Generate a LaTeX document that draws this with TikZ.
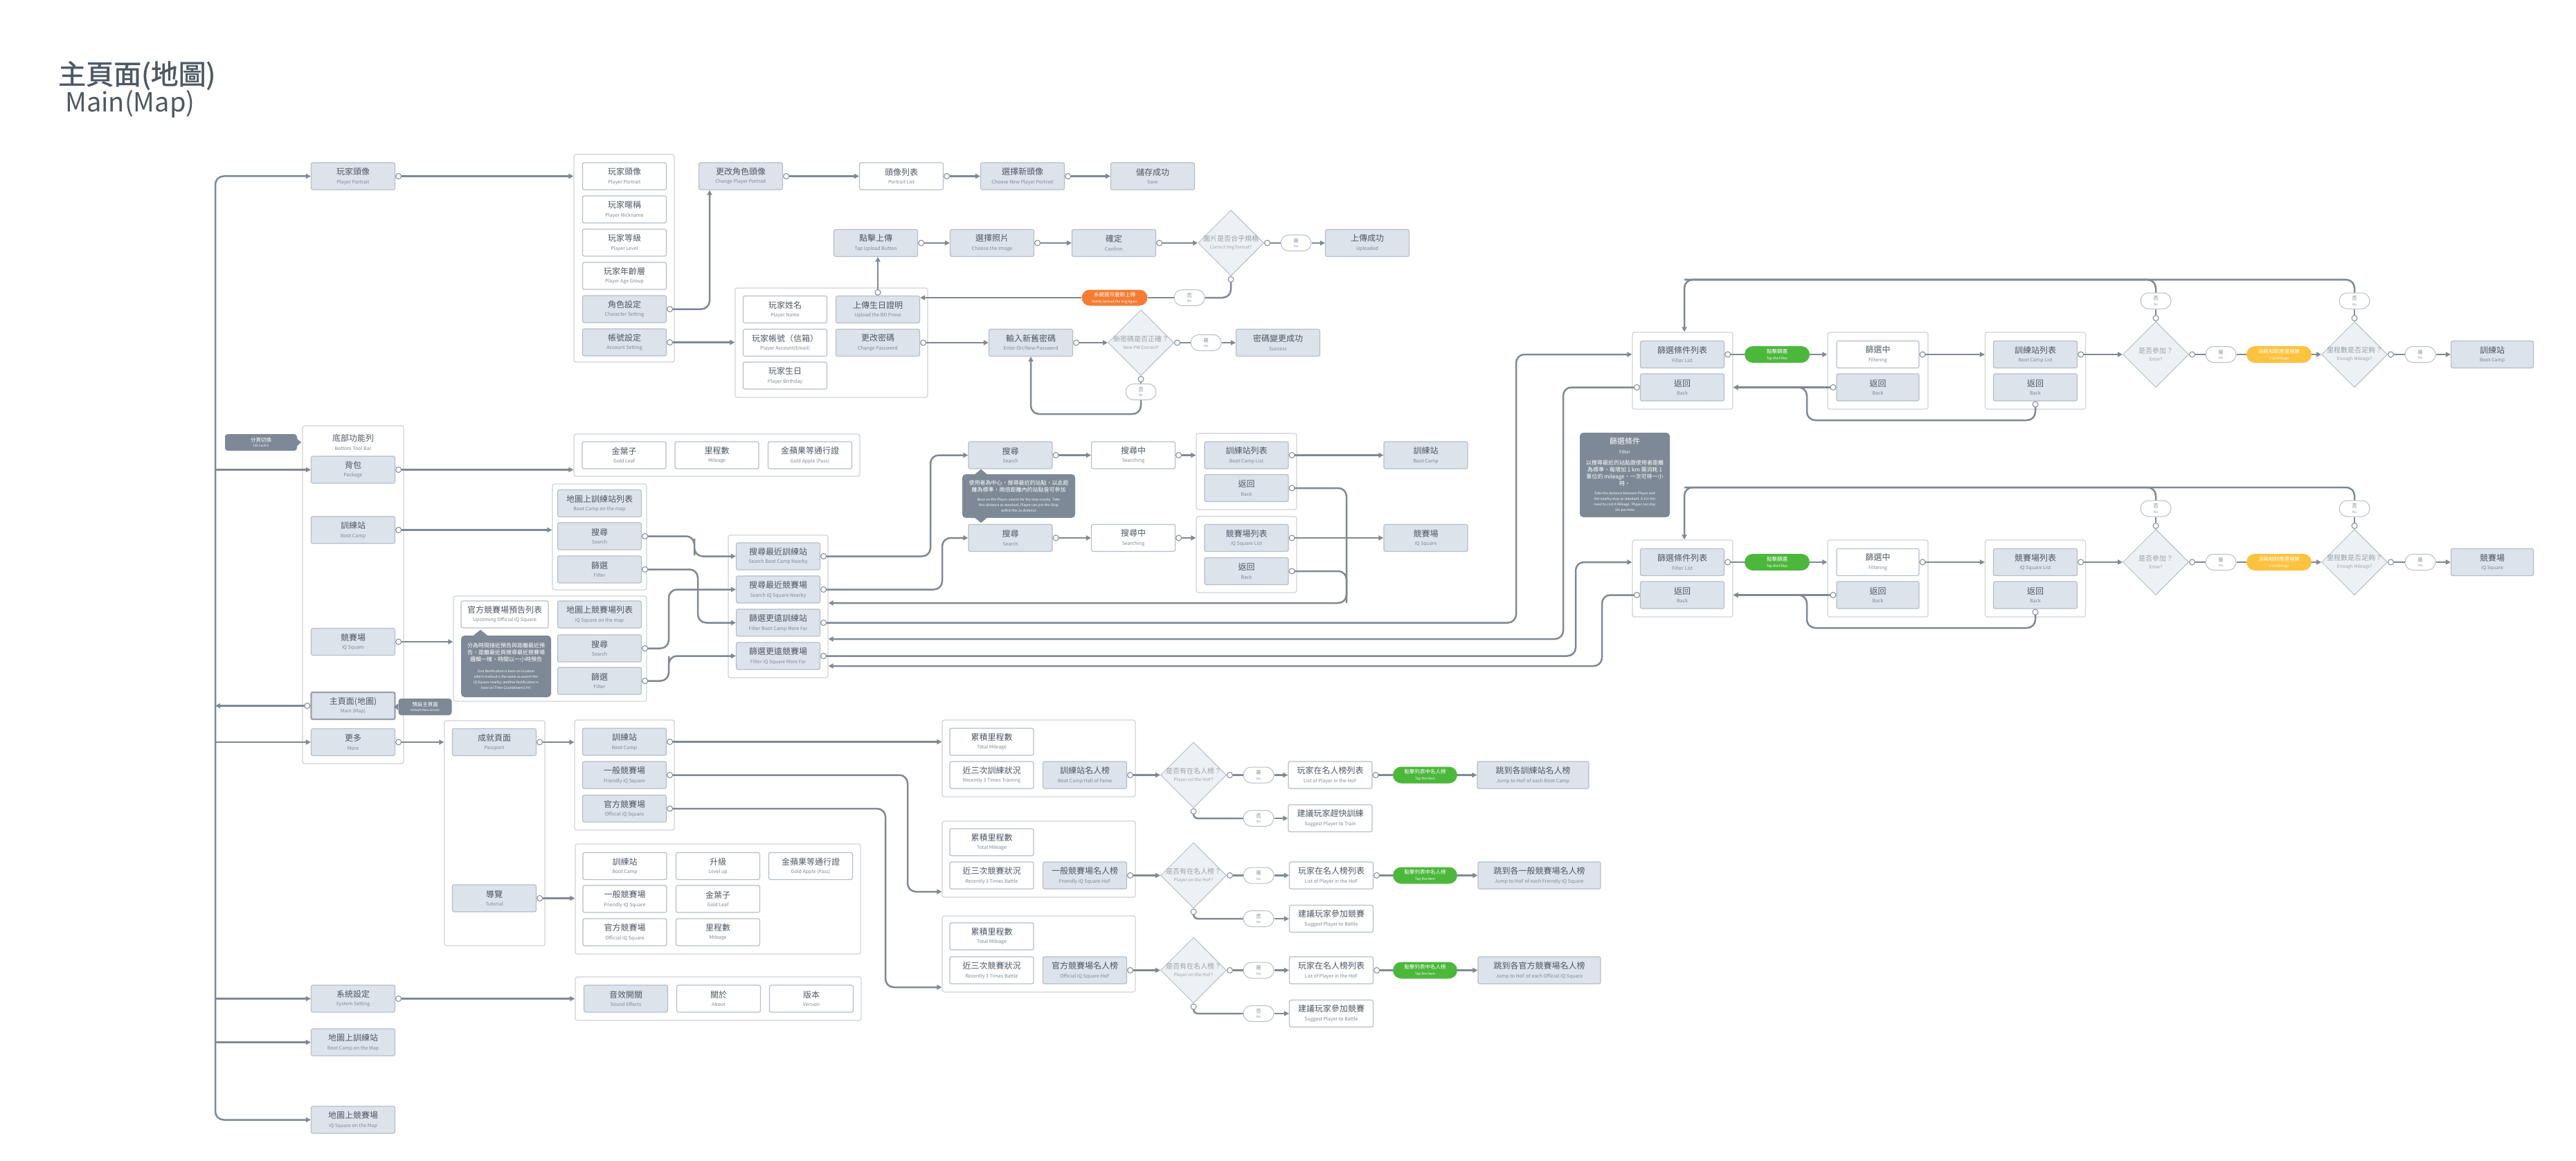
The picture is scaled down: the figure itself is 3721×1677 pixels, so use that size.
\documentclass[tikz,border=0pt]{standalone}
\usepackage{fontspec}
\setmainfont{Noto Sans CJK TC}
\newfontfamily\ttlfont[FakeBold=1.3]{Noto Sans CJK TC}
\usetikzlibrary{arrows.meta,shapes.geometric,shapes.misc}
\definecolor{lc}{HTML}{7E8994}
\definecolor{bxf}{HTML}{DCE3EB}
\definecolor{bxl}{HTML}{B5BEC8}
\definecolor{ctl}{HTML}{CDD3D9}
\definecolor{tx}{HTML}{4D5864}
\definecolor{st}{HTML}{7F8A95}
\definecolor{dfl}{HTML}{EDF0F4}
\definecolor{dtx}{HTML}{9AA4AE}
\definecolor{dk}{HTML}{7D8996}
\definecolor{og}{HTML}{F57C32}
\definecolor{gn}{HTML}{4CB83B}
\definecolor{yl}{HTML}{FDC23E}
\newcommand\boxtxt[2]{{\fontsize{12}{12}\selectfont\color{tx}#1}\\{\color{st}#2}}
\newcommand\diatxt[2]{{\fontsize{10}{10}\selectfont #1}\\#2}
\newcommand\pilltxt[2]{{\fontsize{7.5}{7.5}\selectfont #1}\\#2}
\begin{document}
\begin{tikzpicture}[x=1pt,y=-1pt,
 fbx/.style={rectangle, rounded corners=2.5pt, draw=bxl, line width=1.2pt, fill=bxf, minimum width=121pt, minimum height=39pt, inner sep=0pt, align=center, font=\fontsize{7}{12.5}\selectfont},
 wbx/.style={fbx, fill=white},
 ctr/.style={rectangle, rounded corners=3pt, draw=ctl, line width=1.2pt, fill=white, inner sep=0pt},
 dia/.style={diamond, draw=bxl, line width=1pt, fill=dfl, minimum width=95pt, minimum height=95pt, inner sep=0pt},
 ynp/.style={rounded rectangle, draw=bxl, line width=1pt, fill=white, minimum width=44pt, minimum height=23pt, inner sep=0pt, align=center, text=st, font=\fontsize{4.5}{7.5}\selectfont},
 cpl/.style={rounded rectangle, minimum width=94pt, minimum height=24pt, inner sep=0pt, align=center, text=white, font=\fontsize{5}{9}\selectfont},
 dnote/.style={rectangle, rounded corners=5pt, fill=dk, text=white, inner sep=0pt, align=center},
 ln/.style={draw=lc, line width=2.5pt, rounded corners=12pt},
 ar/.style={ln, -{Triangle[length=7pt,width=7pt]}},
 cln/.style={ln, {Circle[length=9pt,fill=white,line width=1pt 0]}-},
 car/.style={ln, {Circle[length=9pt,fill=white,line width=1pt 0]}-{Triangle[length=7pt,width=7pt]}},
 dlab/.style={align=center,text=dtx,font=\fontsize{6.5}{11}\selectfont}
]
\useasboundingbox[fill=white] (0,0) rectangle (3721,1677);

% title
\node[anchor=west, inner sep=0pt, text=tx, font=\ttlfont\fontsize{40}{40}\selectfont] (title) at (84,109) {主頁面(地圖)};
\node[anchor=west, inner sep=0pt, text=tx, font=\fontsize{38}{38}\selectfont] (title2) at (94,150) {Main(Map)};

% containers
\node[ctr, minimum width=145pt, minimum height=300pt] (c1) at (901.5,373) {};
\node[ctr, minimum width=278pt, minimum height=158pt] (c2) at (1201,495) {};
\node[ctr, minimum width=146pt, minimum height=488pt] (cL) at (510,859) {};
\node[ctr, minimum width=413pt, minimum height=61pt] (cI) at (1035.5,657.5) {};
\node[ctr, minimum width=136pt, minimum height=153pt] (cBC) at (866,775.5) {};
\node[ctr, minimum width=279pt, minimum height=152pt] (cIQ) at (794.5,937) {};
\node[ctr, minimum width=144pt, minimum height=206pt] (cM) at (1124,876) {};
\node[ctr, minimum width=145pt, minimum height=110pt] (cS1) at (1800.5,681) {};
\node[ctr, minimum width=145pt, minimum height=110pt] (cS2) at (1800.5,801) {};
\node[ctr, minimum width=145pt, minimum height=325pt] (cP) at (714.5,1203.5) {};
\node[ctr, minimum width=144pt, minimum height=159pt] (cPa) at (902,1119.5) {};
\node[ctr, minimum width=412pt, minimum height=159pt] (cT) at (1037,1298.5) {};
\node[ctr, minimum width=413pt, minimum height=63pt] (cSet) at (1037.5,1442.5) {};
\node[ctr, minimum width=279pt, minimum height=111pt] (cH1) at (1500.5,1095.5) {};
\node[ctr, minimum width=279pt, minimum height=110pt] (cH2) at (1500.5,1241) {};
\node[ctr, minimum width=279pt, minimum height=110pt] (cH3) at (1500.5,1378) {};
\node[ctr, minimum width=145pt, minimum height=111pt] (cA) at (2430.5,535.5) {};
\node[ctr, minimum width=145pt, minimum height=111pt] (cB) at (2712.5,535.5) {};
\node[ctr, minimum width=145pt, minimum height=111pt] (cC) at (2940,535.5) {};
\node[ctr, minimum width=145pt, minimum height=111pt] (cA2) at (2430.5,835.5) {};
\node[ctr, minimum width=145pt, minimum height=111pt] (cB2) at (2712.5,835.5) {};
\node[ctr, minimum width=145pt, minimum height=111pt] (cC2) at (2940,835.5) {};

% top area
\node[fbx] (pp) at (510,254.5) {\boxtxt{玩家頭像}{Player Portrait}};
\node[wbx] (i1) at (902,254.5) {\boxtxt{玩家頭像}{Player Portrait}};
\node[wbx] (i2) at (902,302.5) {\boxtxt{玩家暱稱}{Player Nickname}};
\node[wbx] (i3) at (902,350.5) {\boxtxt{玩家等級}{Player Level}};
\node[wbx] (i4) at (902,398.5) {\boxtxt{玩家年齡層}{Player Age Group}};
\node[fbx] (i5) at (902,446.5) {\boxtxt{角色設定}{Character Setting}};
\node[fbx] (i6) at (902,494.5) {\boxtxt{帳號設定}{Account Setting}};
\node[fbx] (cp) at (1070,254.5) {\boxtxt{更改角色頭像}{Change Player Portrait}};
\node[wbx] (pl) at (1302,254.5) {\boxtxt{頭像列表}{Portrait List}};
\node[fbx] (cn) at (1477,254.5) {\boxtxt{選擇新頭像}{Choose New Player Portrait}};
\node[fbx] (sv) at (1665,254.5) {\boxtxt{儲存成功}{Save}};
\node[fbx] (tu) at (1265,351) {\boxtxt{點擊上傳}{Tap Upload Button}};
\node[fbx] (ci) at (1433,351) {\boxtxt{選擇照片}{Choose the Image}};
\node[fbx] (cf) at (1609,351) {\boxtxt{確定}{Confirm}};
\node[dia, label={[dlab]center:\diatxt{圖片是否合乎規格}{Correct Img format?}}] (d1) at (1778,351) {};
\node[ynp] (y1) at (1872,351) {\pilltxt{是}{Yes}};
\node[fbx] (up) at (1975,351) {\boxtxt{上傳成功}{Uploaded}};
\node[ynp] (n1) at (1718,430) {\pilltxt{否}{No}};
\node[cpl, fill=og, minimum width=95pt, minimum height=23pt] (orp) at (1610,430) {\pilltxt{系統提示重新上傳}{Notify Upload the Img Again}};
\node[wbx] (pn) at (1134,447) {\boxtxt{玩家姓名}{Player Name}};
\node[fbx] (bd) at (1268,447) {\boxtxt{上傳生日證明}{Upload the BD Prove}};
\node[wbx] (pa) at (1134,495) {\boxtxt{玩家帳號（信箱）}{Player Account(Email)}};
\node[fbx] (cw) at (1268,495) {\boxtxt{更改密碼}{Change Password}};
\node[wbx] (pb) at (1134,542.5) {\boxtxt{玩家生日}{Player Birthday}};
\node[fbx] (ep) at (1489,495) {\boxtxt{輸入新舊密碼}{Enter Ori/New Password}};
\node[dia, label={[dlab]center:\diatxt{新密碼是否正確？}{New PW Correct?}}] (d2) at (1648,495) {};
\node[ynp] (y2) at (1742,495) {\pilltxt{是}{Yes}};
\node[fbx] (ok) at (1846,495) {\boxtxt{密碼變更成功}{Success}};
\node[ynp] (n2) at (1648,566) {\pilltxt{否}{No}};

% left column
\node[dnote, minimum width=104pt, minimum height=24pt, rounded corners=4pt, font=\fontsize{4.5}{7.5}\selectfont] (tab) at (377,639) {\pilltxt{分頁切換}{Tab Switch}};
\fill[dk] ([yshift=5pt]tab.east) -- ([xshift=6pt]tab.east) -- ([yshift=-5pt]tab.east) -- cycle;
\node[align=center, inner sep=0pt, font=\fontsize{7}{12.5}\selectfont] (tbt) at (510,639) {\boxtxt{底部功能列}{Bottom Tool Bar}};
\node[fbx] (pk) at (510,678.5) {\boxtxt{背包}{Package}};
\node[fbx] (bcm) at (510,765.5) {\boxtxt{訓練站}{Boot Camp}};
\node[fbx] (iq) at (510,927) {\boxtxt{競賽場}{iQ Square}};
\node[fbx, line width=2.4pt, draw=bxl!85!black] (mm) at (510,1019.5) {\boxtxt{主頁面(地圖)}{Main (Map)}};
\node[dnote, minimum width=77pt, minimum height=24pt, rounded corners=4pt, font=\fontsize{4.5}{7.5}\selectfont] (dm) at (614,1021) {\pilltxt{預設主頁面}{Default Main Screen}};
\fill[dk] ([yshift=5pt]dm.west) -- ([xshift=-6pt]dm.west) -- ([yshift=-5pt]dm.west) -- cycle;
\node[fbx] (mo) at (510,1072) {\boxtxt{更多}{More}};
\node[fbx] (ss) at (510,1442.5) {\boxtxt{系統設定}{System Setting}};
\node[fbx] (mb) at (510,1505.5) {\boxtxt{地圖上訓練站}{Boot Camp on the Map}};
\node[fbx] (mq) at (510,1617.5) {\boxtxt{地圖上競賽場}{iQ Square on the Map}};

% package items
\node[wbx] (gl) at (901.5,657.5) {\boxtxt{金葉子}{Gold Leaf}};
\node[wbx] (mi) at (1035.5,657.5) {\boxtxt{里程數}{Mileage}};
\node[wbx] (ga) at (1170,657.5) {\boxtxt{金蘋果等通行證}{Gold Apple (Pass)}};

% boot camp / iq square on map
\node[fbx] (bm) at (866,727) {\boxtxt{地圖上訓練站列表}{Boot Camp on the map}};
\node[fbx] (bs) at (866,774.5) {\boxtxt{搜尋}{Search}};
\node[fbx] (bf) at (866,822.5) {\boxtxt{篩選}{Filter}};
\node[wbx, minimum width=126pt] (up2) at (729,887.5) {\boxtxt{官方競賽場預告列表}{Upcoming Official iQ Square}};
\node[dnote, minimum width=130pt, minimum height=89pt, font=\fontsize{8}{10}\selectfont] (note2) at (731,962.5) {分為時間接近預告與距離最近預\\告，距離最近與搜尋最近競賽場\\邏輯一樣，時間以一小時預告\\[6pt]{\fontsize{5}{5}\selectfont One Notification is base on location}\\[-2pt]{\fontsize{5}{5}\selectfont which method is the same as search the}\\[-2pt]{\fontsize{5}{5}\selectfont iQ Square nearby, another Notification is}\\[-2pt]{\fontsize{5}{5}\selectfont base on Time Countdown(1 hr)}};
\fill[dk] ([xshift=-47pt]note2.north) -- ([xshift=-37pt,yshift=8pt]note2.north) -- ([xshift=-27pt]note2.north) -- cycle;
\node[fbx] (qm) at (866,887.5) {\boxtxt{地圖上競賽場列表}{iQ Square on the map}};
\node[fbx] (qs) at (866,936.5) {\boxtxt{搜尋}{Search}};
\node[fbx] (qf) at (866,983.5) {\boxtxt{篩選}{Filter}};

% middle container
\node[fbx] (m1) at (1124,803.5) {\boxtxt{搜尋最近訓練站}{Search Boot Camp Nearby}};
\node[fbx] (m2) at (1124,851.5) {\boxtxt{搜尋最近競賽場}{Search iQ Square Nearby}};
\node[fbx] (m3) at (1124,899.5) {\boxtxt{篩選更遠訓練站}{Filter Boot Camp More Far}};
\node[fbx] (m4) at (1124,947.5) {\boxtxt{篩選更遠競賽場}{Filter iQ Square More Far}};

% search chain
\node[fbx] (s1) at (1459.5,657.5) {\boxtxt{搜尋}{Search}};
\node[dnote, minimum width=163pt, minimum height=63pt, font=\fontsize{8}{10}\selectfont] (note3) at (1471.5,716.5) {使用者為中心，搜尋最近的站點，以此距\\離為標準，兩倍距離內的站點皆可參加\\[3pt]{\fontsize{5}{5}\selectfont Base on the Player, search for the stop nearby. Take}\\[-2pt]{\fontsize{5}{5}\selectfont this distance as standard, Player can join the Stop}\\[-2pt]{\fontsize{5}{5}\selectfont within the 2x distance}};
\fill[dk] ([xshift=-63pt]note3.north) -- ([xshift=-54.5pt,yshift=7pt]note3.north) -- ([xshift=-46pt]note3.north) -- cycle;
\fill[dk] ([xshift=-63pt]note3.south) -- ([xshift=-54.5pt,yshift=-7pt]note3.south) -- ([xshift=-46pt]note3.south) -- cycle;
\node[fbx] (s2) at (1459.5,777) {\boxtxt{搜尋}{Search}};
\node[wbx] (sg1) at (1637,657.5) {\boxtxt{搜尋中}{Searching}};
\node[wbx] (sg2) at (1637,777) {\boxtxt{搜尋中}{Searching}};
\node[fbx] (sl1) at (1800.5,657.5) {\boxtxt{訓練站列表}{Boot Camp List}};
\node[fbx] (sb1) at (1800.5,705) {\boxtxt{返回}{Back}};
\node[fbx] (sl2) at (1800.5,777) {\boxtxt{競賽場列表}{iQ Square List}};
\node[fbx] (sb2) at (1800.5,825) {\boxtxt{返回}{Back}};
\node[fbx] (sd1) at (2059.5,657.5) {\boxtxt{訓練站}{Boot Camp}};
\node[fbx] (sd2) at (2059.5,777) {\boxtxt{競賽場}{iQ Square}};

% bottom: more
\node[fbx] (ps) at (714,1072) {\boxtxt{成就頁面}{Passport}};
\node[fbx] (tt) at (714,1297.5) {\boxtxt{導覽}{Tutorial}};
\node[fbx] (pbc) at (902,1071.5) {\boxtxt{訓練站}{Boot Camp}};
\node[fbx] (pfi) at (902,1119.5) {\boxtxt{一般競賽場}{Friendly iQ Square}};
\node[fbx] (poi) at (902,1168) {\boxtxt{官方競賽場}{Official iQ Square}};
\node[wbx] (g11) at (902.5,1251) {\boxtxt{訓練站}{Boot Camp}};
\node[wbx] (g12) at (1037,1251) {\boxtxt{升級}{Level up}};
\node[wbx] (g13) at (1171,1251) {\boxtxt{金蘋果等通行證}{Gold Apple (Pass)}};
\node[wbx] (g21) at (902.5,1298.5) {\boxtxt{一般競賽場}{Friendly iQ Square}};
\node[wbx] (g22) at (1037,1298.5) {\boxtxt{金葉子}{Gold Leaf}};
\node[wbx] (g31) at (902.5,1346.5) {\boxtxt{官方競賽場}{Official iQ Square}};
\node[wbx] (g32) at (1037,1346.5) {\boxtxt{里程數}{Mileage}};
\node[fbx] (se1) at (904,1442.5) {\boxtxt{音效開關}{Sound Effects}};
\node[wbx] (se2) at (1038,1442.5) {\boxtxt{關於}{About}};
\node[wbx] (se3) at (1172,1442.5) {\boxtxt{版本}{Version}};

% hall of fame rows
\node[wbx] (h1a) at (1432.5,1071.5) {\boxtxt{累積里程數}{Total Mileage}};
\node[wbx] (h1b) at (1432.5,1119.5) {\boxtxt{近三次訓練狀況}{Recently 3 Times Training}};
\node[fbx] (h1c) at (1567,1119.5) {\boxtxt{訓練站名人榜}{Boot Camp Hall of Fame}};
\node[dia, label={[dlab]center:\diatxt{是否有在名人榜？}{Player on the HoF?}}] (hd1) at (1724,1119.5) {};
\node[ynp] (hy1) at (1818,1119.5) {\pilltxt{是}{Yes}};
\node[wbx] (hl1) at (1921.5,1119.5) {\boxtxt{玩家在名人榜列表}{List of Player in the HoF}};
\node[cpl, fill=gn, minimum width=93pt] (hg1) at (2058.5,1119.5) {\pilltxt{點擊列表中名人榜}{Tap the Item}};
\node[fbx, minimum width=161pt] (hj1) at (2214.5,1119.5) {\boxtxt{跳到各訓練站名人榜}{Jump to HoF of each Boot Camp}};
\node[ynp] (hn1) at (1818,1182) {\pilltxt{否}{No}};
\node[wbx] (hs1) at (1921.5,1182) {\boxtxt{建議玩家趕快訓練}{Suggest Player to Train}};

\node[wbx] (h2a) at (1432.5,1216.5) {\boxtxt{累積里程數}{Total Mileage}};
\node[wbx] (h2b) at (1432.5,1264.5) {\boxtxt{近三次競賽狀況}{Recently 3 Times Battle}};
\node[fbx] (h2c) at (1567,1264.5) {\boxtxt{一般競賽場名人榜}{Friendly iQ Square HoF}};
\node[dia, label={[dlab]center:\diatxt{是否有在名人榜？}{Player on the HoF?}}] (hd2) at (1724,1264.5) {};
\node[ynp] (hy2) at (1818,1264.5) {\pilltxt{是}{Yes}};
\node[wbx] (hl2) at (1923,1264.5) {\boxtxt{玩家在名人榜列表}{List of Player in the HoF}};
\node[cpl, fill=gn, minimum width=93pt] (hg2) at (2058.5,1264.5) {\pilltxt{點擊列表中名人榜}{Tap the Item}};
\node[fbx, minimum width=177pt] (hj2) at (2223.5,1264.5) {\boxtxt{跳到各一般競賽場名人榜}{Jump to HoF of each Friendly iQ Square}};
\node[ynp] (hn2) at (1818,1327) {\pilltxt{否}{No}};
\node[wbx] (hs2) at (1923,1327) {\boxtxt{建議玩家參加競賽}{Suggest Player to Battle}};

\node[wbx] (h3a) at (1432.5,1352.5) {\boxtxt{累積里程數}{Total Mileage}};
\node[wbx] (h3b) at (1432.5,1401.5) {\boxtxt{近三次競賽狀況}{Recently 3 Times Battle}};
\node[fbx] (h3c) at (1567,1401.5) {\boxtxt{官方競賽場名人榜}{Official iQ Square HoF}};
\node[dia, label={[dlab]center:\diatxt{是否有在名人榜？}{Player on the HoF?}}] (hd3) at (1724,1401.5) {};
\node[ynp] (hy3) at (1818,1401.5) {\pilltxt{是}{Yes}};
\node[wbx] (hl3) at (1923,1401.5) {\boxtxt{玩家在名人榜列表}{List of Player in the HoF}};
\node[cpl, fill=gn, minimum width=93pt] (hg3) at (2058.5,1401.5) {\pilltxt{點擊列表中名人榜}{Tap the Item}};
\node[fbx, minimum width=177pt] (hj3) at (2223.5,1401.5) {\boxtxt{跳到各官方競賽場名人榜}{Jump to HoF of each Official iQ Square}};
\node[ynp] (hn3) at (1818,1464) {\pilltxt{否}{No}};
\node[wbx] (hs3) at (1923,1464) {\boxtxt{建議玩家參加競賽}{Suggest Player to Battle}};

% right: boot camp filter
\node[fbx] (fl) at (2430,512) {\boxtxt{篩選條件列表}{Filter List}};
\node[fbx] (fbk) at (2430,559.5) {\boxtxt{返回}{Back}};
\node[cpl, fill=gn] (gp) at (2567,512) {\pilltxt{點擊篩選}{Tap the Filter}};
\node[wbx, minimum width=119pt] (fg) at (2712.5,512) {\boxtxt{篩選中}{Filtering}};
\node[fbx, minimum width=119pt] (fgb) at (2712.5,559.5) {\boxtxt{返回}{Back}};
\node[fbx] (bl) at (2940,512) {\boxtxt{訓練站列表}{Boot Camp List}};
\node[fbx] (blb) at (2940,559.5) {\boxtxt{返回}{Back}};
\node[dia, label={[dlab]center:\diatxt{是否參加？}{Enter?}}] (dE) at (3114,512) {};
\node[ynp] (yE) at (3208,512) {\pilltxt{是}{Yes}};
\node[cpl, fill=yl] (ym) at (3292,512) {\pilltxt{消耗相對應里程數}{Cost Mileage}};
\node[dia, label={[dlab]center:\diatxt{里程數是否足夠？}{Enough Mileage?}}] (dM) at (3401,512) {};
\node[ynp] (yM) at (3496,512) {\pilltxt{是}{Yes}};
\node[fbx, minimum width=119pt] (bc) at (3600,512) {\boxtxt{訓練站}{Boot Camp}};
\node[ynp] (nE) at (3114,434.5) {\pilltxt{否}{No}};
\node[ynp] (nM) at (3401,434.5) {\pilltxt{否}{No}};

% right: iq square filter
\node[dnote, minimum width=130pt, minimum height=122pt, font=\fontsize{8}{10}\selectfont] (fnote) at (2347,686) {{\fontsize{11}{11}\selectfont 篩選條件}\\[4pt]{\fontsize{6.5}{6.5}\selectfont Filter}\\[6pt]以搜尋最近的站點跟使用者距離\\為標準，每增加 1 km 需消耗 1\\單位的 mileage，一次可待一小\\時。\\[3pt]{\fontsize{5}{5}\selectfont Take the distance between Player and}\\[-2pt]{\fontsize{5}{5}\selectfont the nearby stop as standard. A 10+ km}\\[-2pt]{\fontsize{5}{5}\selectfont need to cost A Mileage. Player can stay}\\[-2pt]{\fontsize{5}{5}\selectfont 1hr per time}};
\node[fbx] (fl2) at (2430,812) {\boxtxt{篩選條件列表}{Filter List}};
\node[fbx] (fbk2) at (2430,859.5) {\boxtxt{返回}{Back}};
\node[cpl, fill=gn] (gp2) at (2567,812) {\pilltxt{點擊篩選}{Tap the Filter}};
\node[wbx, minimum width=119pt] (fg2) at (2712.5,812) {\boxtxt{篩選中}{Filtering}};
\node[fbx, minimum width=119pt] (fgb2) at (2712.5,859.5) {\boxtxt{返回}{Back}};
\node[fbx] (bl2) at (2940,812) {\boxtxt{競賽場列表}{iQ Square List}};
\node[fbx] (blb2) at (2940,859.5) {\boxtxt{返回}{Back}};
\node[dia, label={[dlab]center:\diatxt{是否參加？}{Enter?}}] (dE2) at (3114,812) {};
\node[ynp] (yE2) at (3208,812) {\pilltxt{是}{Yes}};
\node[cpl, fill=yl] (ym2) at (3292,812) {\pilltxt{消耗相對應里程數}{Cost Mileage}};
\node[dia, label={[dlab]center:\diatxt{里程數是否足夠？}{Enough Mileage?}}] (dM2) at (3401,812) {};
\node[ynp] (yM2) at (3496,812) {\pilltxt{是}{Yes}};
\node[fbx, minimum width=119pt] (bc2) at (3600,812) {\boxtxt{競賽場}{iQ Square}};
\node[ynp] (nE2) at (3114,734.5) {\pilltxt{否}{No}};
\node[ynp] (nM2) at (3401,734.5) {\pilltxt{否}{No}};

% helper coordinates
\coordinate (trk) at (311,800);
\coordinate (lt) at (2433,404);
\coordinate (lt2) at (2433,704);
\coordinate (y871) at (0,871);
\coordinate (y923) at (0,923);
\coordinate (y962) at (0,962);
\coordinate (y1288) at (0,1288);
\coordinate (y1426) at (0,1426);
\coordinate (j1) at (1945,871);
\coordinate (lp1) at (2610,607);
\coordinate (lp2) at (2610,907);

% trunk
\draw[ar] (trk) |- (pp.west);
\draw[ar] (trk) |- (mq.west);
\draw[ar] (trk |- pk.west) -- (pk.west);
\draw[ar] (trk |- mo.west) -- (mo.west);
\draw[ar] (trk |- ss.west) -- (ss.west);
\draw[ar] (trk |- mb.west) -- (mb.west);
\draw[car] (mm.west) -- (trk |- mm.west);

% top connectors
\draw[car] (pp.east) -- (c1.west |- pp.east);
\draw[car] (i5.east) -| ([xshift=-45pt]cp.south);
\draw[car] (i6.east) -- (c2.west |- i6.east);
\draw[car] (cp.east) -- (pl.west);
\draw[car] (pl.east) -- (cn.west);
\draw[car] (cn.east) -- (sv.west);
\draw[car] (tu.east) -- (ci.west);
\draw[car] (ci.east) -- (cf.west);
\draw[car] (cf.east) -- (d1.west);
\draw[cln] (d1.east) -- (y1.west);
\draw[ar] (y1.east) -- (up.west);
\draw[cln] (d1.south) |- (n1.east);
\draw[ln] (n1.west) -- (orp.east);
\draw[ar] (orp.west) -- (bd.east |- orp.west);
\draw[car] (bd.north) -- (bd.north |- tu.south);
\draw[car] (cw.east) -- (ep.west);
\draw[car] (ep.east) -- (d2.west);
\draw[cln] (d2.east) -- (y2.west);
\draw[ar] (y2.east) -- (ok.west);
\draw[cln, rounded corners=4pt] (d2.south) -- (n2.north);
\draw[ar] (n2.south) |- (1560,598) -| (ep.south);

% middle connectors
\draw[car] (pk.east) -- (cI.west |- pk.east);
\draw[car] (bcm.east) -- (cBC.west |- bcm.east);
\draw[car] (iq.east) -- (cIQ.west |- iq.east);
\draw[car] (mo.east) -- (cP.west |- mo.east);
\draw[car] (ps.east) -- (cPa.west |- ps.east);
\draw[car] (tt.east) -- (cT.west |- tt.east);
\draw[car] (ss.east) -- (cSet.west |- ss.east);
\draw[car] (bs.east) -| (1003,790) |- (m1.west);
\draw[car] (bf.east) -| (1008,860) |- (m3.west);
\draw[car] (qs.east) -| (966,900) |- (m2.west);
\draw[car] (qf.east) -| (966,960) |- (m4.west);
\draw[car] (m1.east) -| (1344,720) |- (s1.west);
\draw[car] (m2.east) -| (1361,810) |- (s2.west);
\draw[car] (s1.east) -- (sg1.west);
\draw[car] (sg1.east) -- (cS1.west |- sg1.east);
\draw[car] (s2.east) -- (sg2.west);
\draw[car] (sg2.east) -- (cS2.west |- sg2.east);
\draw[car] (sl1.east) -- (sd1.west);
\draw[car] (sl2.east) -- (sd2.west);
\draw[car] (sb1.east) -| (1945,800) |- (cM.east |- y871);
\draw[cln] (sb2.east) -| (j1);
\draw[car] (m3.east) -| (2190,700) |- (cA.west |- fl.west);
\draw[car] (fbk.west) -| (2258,800) |- (cM.east |- y923);
\draw[car] (m4.east) -| (2276,880) |- (cA2.west |- fl2.west);
\draw[car] (fbk2.west) -| (2314,920) |- (cM.east |- y962);

% right top connectors
\draw[cln] (fl.east) -- (gp.west);
\draw[ar] (gp.east) -- (cB.west |- gp.east);
\draw[car] (fg.east) -- (cC.west |- fg.east);
\draw[car] (bl.east) -- (dE.west);
\draw[cln] (dE.east) -- (yE.west);
\draw[ln] (yE.east) -- (ym.west);
\draw[ar] (ym.east) -- (dM.west);
\draw[cln] (dM.east) -- (yM.west);
\draw[ar] (yM.east) -- (bc.west);
\draw[cln, rounded corners=4pt] (dE.north) -- (nE.south);
\draw[cln, rounded corners=4pt] (dM.north) -- (nM.south);
\draw[ar] (nM.north) |- (lt) -- (lt |- cA.north);
\draw[ln] (nE.north) |- (lt);
\draw[car] (fgb.west) -- (cA.east |- fgb.west);
\draw[car] (blb.south) |- (lp1) |- (cA.east |- fbk.west);

% right lower connectors
\draw[cln] (fl2.east) -- (gp2.west);
\draw[ar] (gp2.east) -- (cB2.west |- gp2.east);
\draw[car] (fg2.east) -- (cC2.west |- fg2.east);
\draw[car] (bl2.east) -- (dE2.west);
\draw[cln] (dE2.east) -- (yE2.west);
\draw[ln] (yE2.east) -- (ym2.west);
\draw[ar] (ym2.east) -- (dM2.west);
\draw[cln] (dM2.east) -- (yM2.west);
\draw[ar] (yM2.east) -- (bc2.west);
\draw[cln, rounded corners=4pt] (dE2.north) -- (nE2.south);
\draw[cln, rounded corners=4pt] (dM2.north) -- (nM2.south);
\draw[ar] (nM2.north) |- (lt2) -- (lt2 |- cA2.north);
\draw[ln] (nE2.north) |- (lt2);
\draw[car] (fgb2.west) -- (cA2.east |- fgb2.west);
\draw[car] (blb2.south) |- (lp2) |- (cA2.east |- fbk2.west);

% hall of fame connectors
\draw[car] (pbc.east) -- (cH1.west |- pbc.east);
\draw[car] (pfi.east) -| (1311,1200) |- (cH2.west |- y1288);
\draw[car] (poi.east) -| (1279,1300) |- (cH3.west |- y1426);
\draw[car] (h1c.east) -- (hd1.west);
\draw[cln] (hd1.east) -- (hy1.west);
\draw[ar] (hy1.east) -- (hl1.west);
\draw[cln] (hl1.east) -- (hg1.west);
\draw[ar] (hg1.east) -- (hj1.west);
\draw[cln, rounded corners=6pt] (hd1.south) |- (hn1.west);
\draw[ar] (hn1.east) -- (hs1.west);
\draw[car] (h2c.east) -- (hd2.west);
\draw[cln] (hd2.east) -- (hy2.west);
\draw[ar] (hy2.east) -- (hl2.west);
\draw[cln] (hl2.east) -- (hg2.west);
\draw[ar] (hg2.east) -- (hj2.west);
\draw[cln, rounded corners=6pt] (hd2.south) |- (hn2.west);
\draw[ar] (hn2.east) -- (hs2.west);
\draw[car] (h3c.east) -- (hd3.west);
\draw[cln] (hd3.east) -- (hy3.west);
\draw[ar] (hy3.east) -- (hl3.west);
\draw[cln] (hl3.east) -- (hg3.west);
\draw[ar] (hg3.east) -- (hj3.west);
\draw[cln, rounded corners=6pt] (hd3.south) |- (hn3.west);
\draw[ar] (hn3.east) -- (hs3.west);
\end{tikzpicture}
\end{document}
